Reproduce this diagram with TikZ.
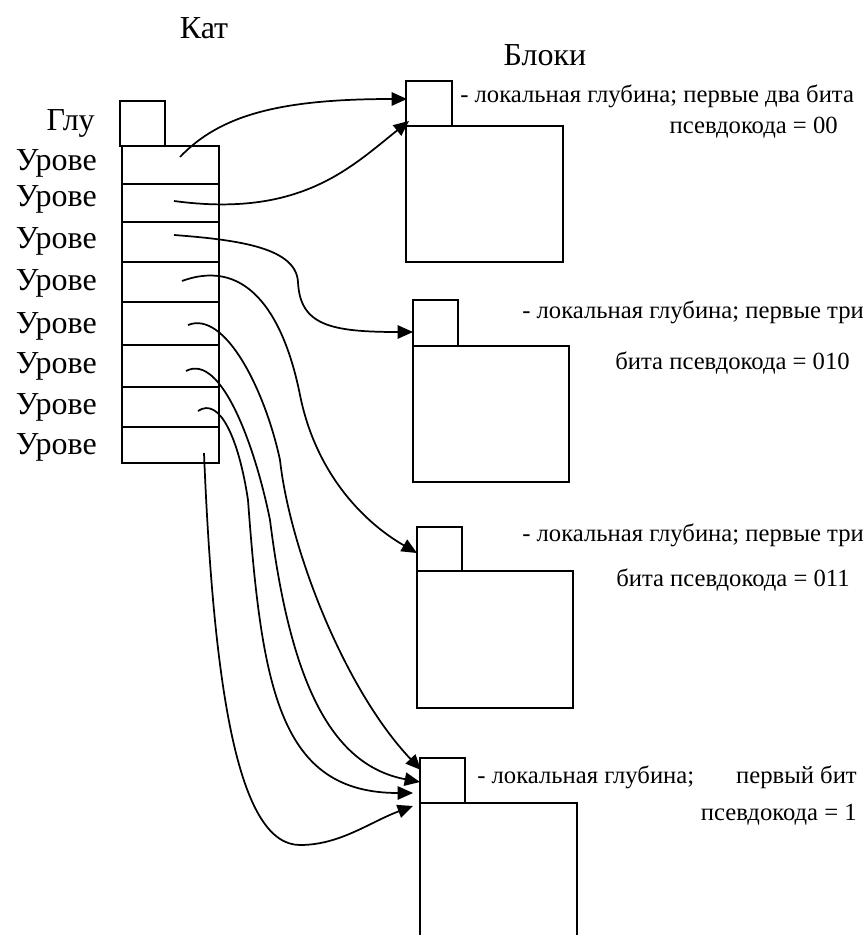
\documentclass[tikz,border=0pt]{standalone}
\usepackage{fontspec}
\setmainfont{Liberation Serif}
\usetikzlibrary{arrows.meta}
\tikzset{
    ptrarrow/.style={
        line width=1.3pt,
        black,
        -{Triangle[length=11.5pt, width=10pt]}
    },
    boxline/.style={line width=1.4pt},
    biglbl/.style={inner sep=0pt, font=\fontsize{24}{27}\selectfont},
    smalllbl/.style={inner sep=0pt, font=\fontsize{18.5}{21}\selectfont}
}

\begin{document}
\begin{tikzpicture}[x=0.75pt, y=-0.75pt]
    \useasboundingbox (0,0) rectangle (863,935);

    \node[biglbl, anchor=base] (kat) at (204,38) {Кат};
    \node[biglbl, anchor=base] (bloki) at (545,65) {Блоки};

    % catalog
    \draw[boxline] (120,101) rectangle (165,146);
    \draw[boxline] (122,146) rectangle (219,463);
    \draw[boxline] (122,184) -- (219,184);
    \draw[boxline] (122,222) -- (219,222);
    \draw[boxline] (122,262) -- (219,262);
    \draw[boxline] (122,302) -- (219,302);
    \draw[boxline] (122,345) -- (219,345);
    \draw[boxline] (122,387) -- (219,387);
    \draw[boxline] (122,427) -- (219,427);

    \node[biglbl, anchor=base east] (glu) at (95,130) {Глу};
    \node[biglbl, anchor=base east] (lev1) at (97,170) {Урове};
    \node[biglbl, anchor=base east] (lev2) at (97,206) {Урове};
    \node[biglbl, anchor=base east] (lev3) at (97,248) {Урове};
    \node[biglbl, anchor=base east] (lev4) at (97,290) {Урове};
    \node[biglbl, anchor=base east] (lev5) at (97,333) {Урове};
    \node[biglbl, anchor=base east] (lev6) at (97,373) {Урове};
    \node[biglbl, anchor=base east] (lev7) at (97,414) {Урове};
    \node[biglbl, anchor=base east] (lev8) at (97,454) {Урове};

    % blocks
    \draw[boxline] (406,81) rectangle (452,126);
    \draw[boxline] (406,126) rectangle (563,262);
    \draw[boxline] (413,300) rectangle (458,346);
    \draw[boxline] (413,346) rectangle (569,482);
    \draw[boxline] (417,527) rectangle (462,571);
    \draw[boxline] (417,571) rectangle (573,708);
    \draw[boxline] (420,758) rectangle (465,803);
    \draw[boxline] (420,940) -- (420,803) -- (577,803) -- (577,940);

    \node[smalllbl, anchor=base west] (d1a) at (460,102) {- локальная глубина; первые два бита};
    \node[smalllbl, anchor=base east] (d1b) at (838,133) {псевдокода = 00};
    \node[smalllbl, anchor=base west] (d2a) at (522,318) {- локальная глубина; первые три};
    \node[smalllbl, anchor=base east] (d2b) at (850,369) {бита псевдокода = 010};
    \node[smalllbl, anchor=base west] (d3a) at (522,541) {- локальная глубина; первые три};
    \node[smalllbl, anchor=base east] (d3b) at (850,586) {бита псевдокода = 011};
    \node[smalllbl, anchor=base west] (d4a) at (477,783) {- локальная глубина;};
    \node[smalllbl, anchor=base east] (d4b) at (857,783) {первый бит};
    \node[smalllbl, anchor=base east] (d4c) at (857,820) {псевдокода = 1};

    % pointers
    \coordinate (row1) at (180,157);
    \coordinate (row2) at (174,201);
    \coordinate (row3) at (174,235);
    \coordinate (row4) at (182,281);
    \coordinate (row5) at (188,325);
    \coordinate (row6) at (186,371);
    \coordinate (row7) at (198,411);
    \coordinate (row8) at (204,453);
    \coordinate (in1) at (407,99);
    \coordinate (in2) at (409,121);
    \coordinate (in3) at (413,332);
    \coordinate (in4) at (417,553);
    \coordinate (in5) at (421,770);
    \coordinate (in6) at (420,782);
    \coordinate (in7) at (413,793);
    \coordinate (in8) at (413,806);

    \draw[ptrarrow] (row1) .. controls (220,115) and (280,99) .. (in1);
    \draw[ptrarrow] (row2) .. controls (300,218) and (350,168) .. (in2);
    \draw[ptrarrow] (row3) .. controls (240,240) and (296,248) .. (298,282)
        .. controls (300,325) and (330,332) .. (in3);
    \draw[ptrarrow] (row4) .. controls (250,256) and (285,320) .. (300,395)
        .. controls (315,470) and (360,520) .. (in4);
    \draw[ptrarrow] (row5) .. controls (225,310) and (265,390) .. (280,460)
        .. controls (290,550) and (345,690) .. (in5);
    \draw[ptrarrow] (row6) .. controls (222,352) and (256,450) .. (270,520)
        .. controls (290,680) and (330,765) .. (in6);
    \draw[ptrarrow] (row7) .. controls (220,396) and (239,440) .. (248,500)
        .. controls (262,690) and (280,793) .. (in7);
    \draw[ptrarrow] (row8) .. controls (214,700) and (240,845) .. (300,845)
        .. controls (340,845) and (370,822) .. (in8);
\end{tikzpicture}
\end{document}
